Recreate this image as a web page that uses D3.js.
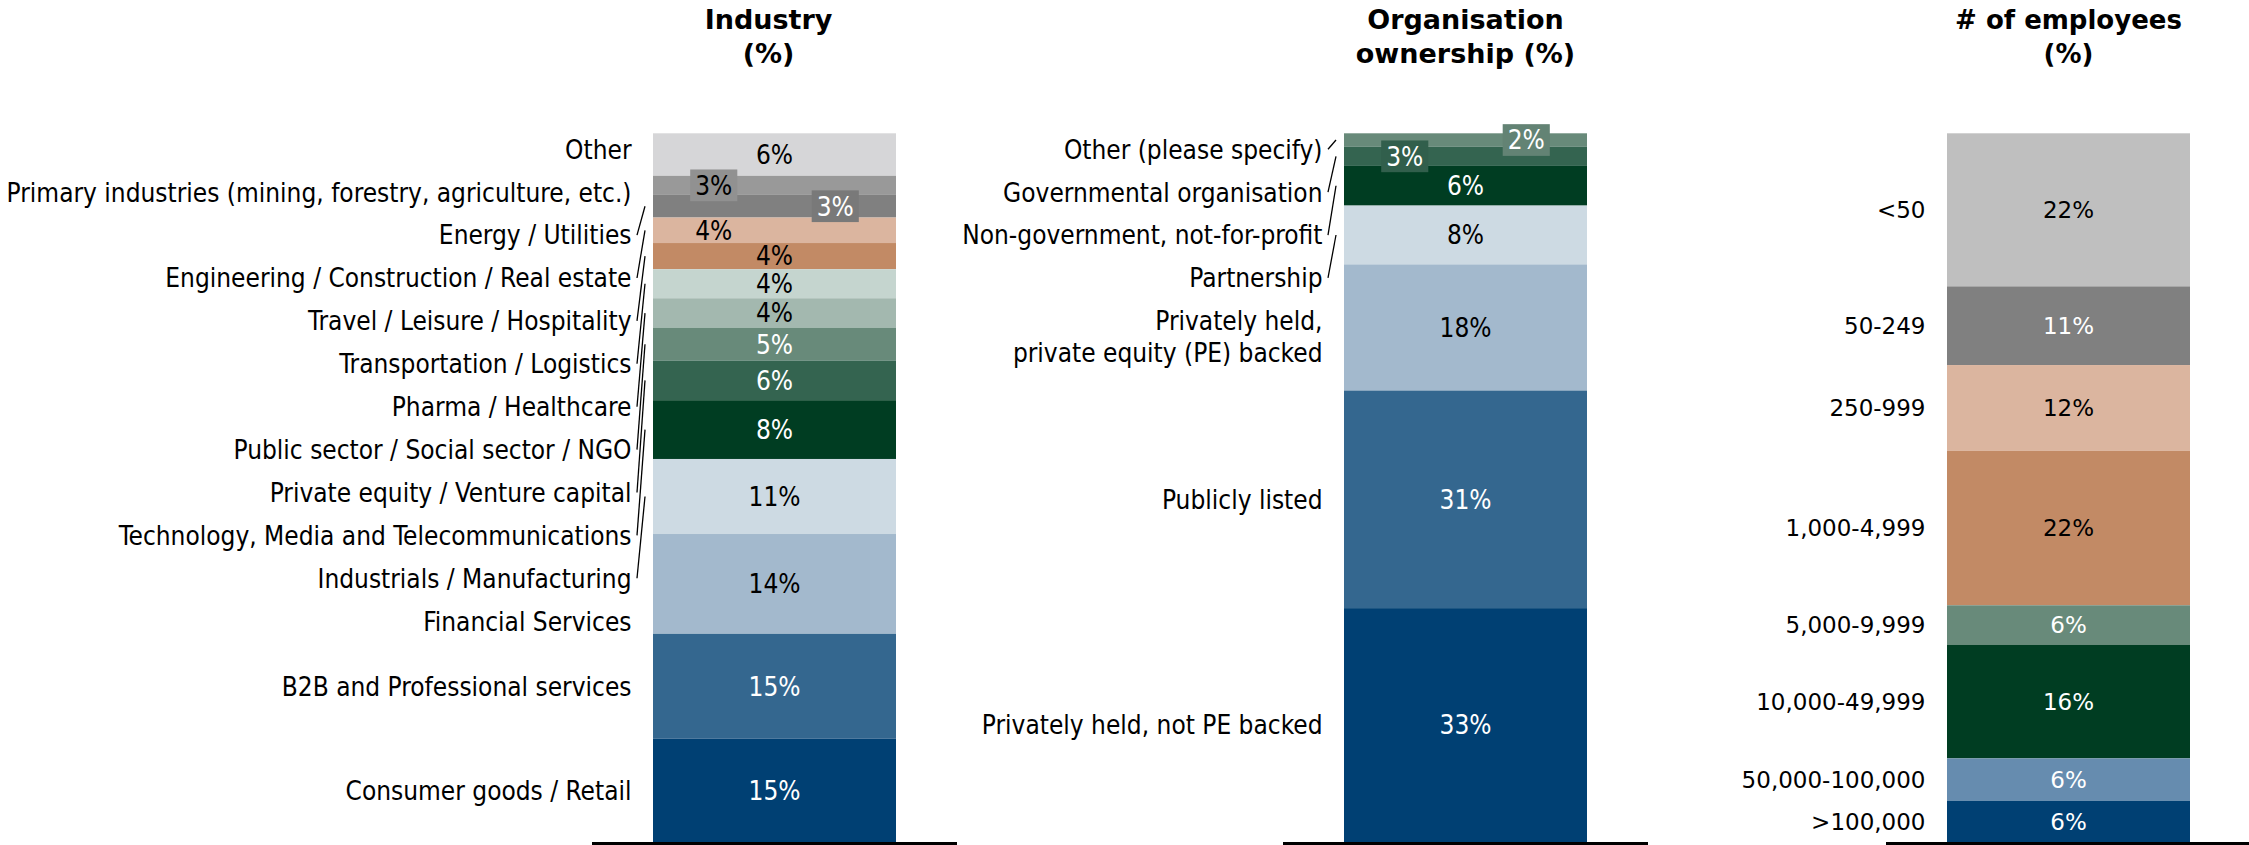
<!DOCTYPE html>
<html>
<head>
<meta charset="utf-8">
<script src="https://cdn.jsdelivr.net/npm/d3@7"></script>
<style>
  body { margin: 0; background: #fff; }
  .narrow { font-family: "DejaVu Sans Condensed", "DejaVu Sans", sans-serif; font-stretch: condensed; }
  .wide { font-family: "DejaVu Sans", Verdana, sans-serif; }
  .title { font-family: "DejaVu Sans", sans-serif; font-weight: bold; }
</style>
</head>
<body>
<script>
// values are listed top to bottom, as stacked in the bars
const industryLabels = ["Other", "Primary industries (mining, forestry, agriculture, etc.)", "Energy / Utilities",
    "Engineering / Construction / Real estate", "Travel / Leisure / Hospitality", "Transportation / Logistics",
    "Pharma / Healthcare", "Public sector / Social sector / NGO", "Private equity / Venture capital",
    "Technology, Media and Telecommunications", "Industrials / Manufacturing", "Financial Services",
    "B2B and Professional services", "Consumer goods / Retail"];
const industryValues = [6.0, 2.7, 3.2, 3.6, 3.7, 4.1, 4.2, 4.6, 5.6, 8.3, 10.6, 14.1, 14.8, 14.6];
const industryColors = ["#d6d6d8", "#999999", "#808080", "#dbb59f", "#c28a65", "#c5d5cf", "#a3b8af",
    "#688a7a", "#346450", "#003d22", "#cddae3", "#a3b9cd", "#34678f", "#004073"];

const ownershipLabels = ["Other (please specify)", "Governmental organisation", "Non-government, not-for-profit",
    "Partnership", "Privately held,\nprivate equity (PE) backed", "Publicly listed", "Privately held, not PE backed"];
const ownershipValues = [1.9, 2.7, 5.6, 8.3, 17.8, 30.7, 33.0];
const ownershipColors = ["#688a7a", "#346450", "#003d22", "#cddae3", "#a3b9cd", "#34678f", "#004073"];

const employeeLabels = ["<50", "50-249", "250-999", "1,000-4,999", "5,000-9,999", "10,000-49,999",
    "50,000-100,000", ">100,000"];
const employeeValues = [21.6, 11.1, 12.1, 21.8, 5.6, 16.0, 6.0, 5.8];
const employeeColors = ["#bfbfbf", "#808080", "#dbb59f", "#c28a65", "#688a7a", "#003d22", "#668caf", "#004073"];

const width = 2249, height = 845;
const barTop = 133.3, barBottom = 842, barWidth = 243;

const panels = [
    { title: ["Industry", "(%)"], labels: industryLabels, values: industryValues, colors: industryColors,
      x: 653, font: "narrow", fs: 26, titleShift: -6 },
    { title: ["Organisation", "ownership (%)"], labels: ownershipLabels, values: ownershipValues, colors: ownershipColors,
      x: 1344, font: "narrow", fs: 26 },
    { title: ["# of employees", "(%)"], labels: employeeLabels, values: employeeValues, colors: employeeColors,
      x: 1947, font: "wide", fs: 23, titleFs: 26 }
];

const fmt = v => Math.round(v) + "%";

const svg = d3.select("body").append("svg")
    .attr("width", width)
    .attr("height", height);

// stack labels so they don't overlap, clusters sit at mean of wanted positions
function layoutLabels(nodes, minTop) {
    let clusters = [];
    nodes.forEach(function(nd) {
        let c = { nodes: [nd], size: nd.h };
        fit(c);
        clusters.push(c);
        while (clusters.length > 1) {
            let a = clusters[clusters.length - 2], b = clusters[clusters.length - 1];
            if (a.top + a.size <= b.top) break;
            a.nodes = a.nodes.concat(b.nodes);
            a.size += b.size;
            fit(a);
            clusters.pop();
        }
    });
    function fit(c) {
        let off = 0, tops = [];
        c.nodes.forEach(function(nd) {
            tops.push(nd.want - off - nd.h / 2);
            off += nd.h;
        });
        c.top = Math.max(minTop, d3.mean(tops));
    }
    clusters.forEach(function(c) {
        let off = c.top;
        c.nodes.forEach(function(nd) {
            nd.y = off + nd.h / 2;
            off += nd.h;
        });
    });
}

function drawPanel(p) {
    const total = d3.sum(p.values);
    const y = d3.scaleLinear()
        .domain([0, total])
        .range([barBottom, barTop]);

    const segs = p.values.map(function(v, i) {
        const below = d3.sum(p.values.slice(i + 1));
        return { label: p.labels[i], value: v, color: p.colors[i], y0: y(below), y1: y(below + v) };
    });
    segs.forEach(d => { d.h = d.y0 - d.y1; d.mid = (d.y0 + d.y1) / 2; });

    const g = svg.append("g").attr("class", "panel");

    g.append("g")
        .attr("class", "title")
        .selectAll("text")
        .data(p.title)
        .enter()
        .append("text")
        .attr("x", p.x + barWidth / 2 + (p.titleShift || 0))
        .attr("y", (d, i) => 29 + i * 34)
        .attr("text-anchor", "middle")
        .style("font-size", (p.titleFs || 27) + "px")
        .text(d => d);

    g.selectAll(".seg")
        .data(segs)
        .enter()
        .append("rect")
        .attr("class", "seg")
        .attr("x", p.x)
        .attr("y", d => d.y1)
        .attr("width", barWidth)
        .attr("height", d => d.h)
        .attr("fill", d => d.color);

    // value label spots: small segments move to the sides, alternating from the bottom
    let side = 0;
    for (let i = segs.length - 1; i >= 0; i--) {
        const d = segs[i];
        if (d.h >= 26) {
            d.lx = p.x + barWidth / 2;
        } else {
            d.lx = p.x + barWidth * (side === 0 ? 0.25 : 0.75);
            side = 1 - side;
            d.boxed = d.h < 24;
        }
        d.ink = d3.lab(d.color).l < 58 ? "#fff" : "#000";
    }

    const vals = g.selectAll(".val")
        .data(segs)
        .enter()
        .append("g")
        .attr("class", "val " + p.font)
        .style("font-size", p.fs + "px");
    const valText = vals.append("text")
        .attr("x", d => d.lx)
        .attr("y", d => d.mid)
        .attr("dy", "0.36em")
        .attr("text-anchor", "middle")
        .attr("fill", d => d.ink)
        .text(d => fmt(d.value));
    valText.each(function(d) {
        if (!d.boxed) return;
        const bb = this.getBBox();
        d3.select(this.parentNode).insert("rect", "text")
            .attr("x", bb.x - 5)
            .attr("y", d.mid - p.fs * 0.61)
            .attr("width", bb.width + 10)
            .attr("height", p.fs * 1.22)
            .attr("fill", d3.color(d.color).darker(0.15));
    });

    // category labels on the left
    const lineH = p.fs * 1.22;
    const nodes = segs.map(function(d) {
        const lines = d.label.split("\n");
        return { seg: d, lines: lines, want: d.mid, h: lines.length * lineH + p.fs * 0.43 };
    });
    layoutLabels(nodes, barTop - p.fs * 0.21);

    const labelX = p.x - 21.5;
    const cats = g.selectAll(".cat")
        .data(nodes)
        .enter()
        .append("text")
        .attr("class", "cat " + p.font)
        .style("font-size", p.fs + "px")
        .attr("text-anchor", "end")
        .attr("fill", "#000");
    cats.selectAll("tspan")
        .data(d => d.lines.map((t, i) => ({ t: t, y: d.y + (i - (d.lines.length - 1) / 2) * lineH })))
        .enter()
        .append("tspan")
        .attr("x", labelX)
        .attr("y", t => t.y)
        .attr("dy", "0.36em")
        .text(t => t.t);

    // leader lines for labels that ended up outside their segment
    g.selectAll(".leader")
        .data(nodes.filter(d => d.y < d.seg.y1 || d.y > d.seg.y0))
        .enter()
        .append("line")
        .attr("class", "leader")
        .attr("x1", p.x - 16)
        .attr("y1", d => d.y)
        .attr("x2", p.x - 8)
        .attr("y2", d => d.seg.mid)
        .attr("stroke", "#000")
        .attr("stroke-width", 1.3);

    g.append("line")
        .attr("class", "baseline")
        .attr("x1", p.x - 61)
        .attr("x2", p.x + barWidth + 61)
        .attr("y1", barBottom + 1.5)
        .attr("y2", barBottom + 1.5)
        .attr("stroke", "#000")
        .attr("stroke-width", 3);
}

panels.forEach(drawPanel);
</script>
</body>
</html>
